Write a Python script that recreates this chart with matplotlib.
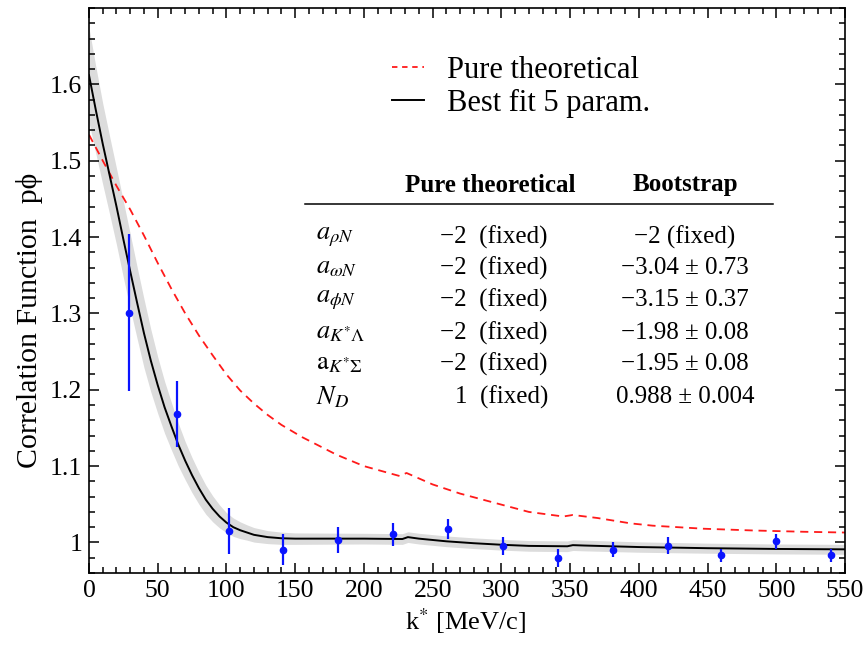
import matplotlib
matplotlib.use("Agg")
import matplotlib.pyplot as plt
from matplotlib.ticker import MultipleLocator, FixedLocator, FixedFormatter
from matplotlib.lines import Line2D

plt.rcParams['font.family'] = ['Liberation Serif', 'DejaVu Serif']
plt.rcParams['mathtext.fontset'] = 'stix'

# ---------------- data ----------------
k_data = [29, 64, 102, 141, 181, 221, 261, 301, 341, 381, 421, 460, 500, 540]
c_data = [1.301, 1.168, 1.015, 0.9905, 1.0035, 1.011, 1.0175, 0.995, 0.980,
          0.9905, 0.9957, 0.983, 1.0013, 0.983]
c_err = [0.103, 0.043, 0.030, 0.020, 0.017, 0.015, 0.013, 0.012, 0.012,
         0.010, 0.011, 0.009, 0.0095, 0.009]

k_fit = [0, 5, 10, 15, 20, 25, 30, 35, 40, 45, 50, 55, 60, 65, 70, 75, 80, 85,
         90, 95, 100, 105, 110, 115, 120, 130, 140, 150, 200, 228, 232, 240,
         260, 280, 300, 320, 348, 352, 360, 400, 450, 500, 550]
c_fit = [1.612, 1.566, 1.522, 1.481, 1.440, 1.397, 1.355, 1.314, 1.274, 1.238,
         1.206, 1.177, 1.152, 1.128, 1.107, 1.088, 1.071, 1.056, 1.044, 1.034,
         1.026, 1.020, 1.016, 1.013, 1.010, 1.007, 1.0055, 1.005, 1.005, 1.0045,
         1.007, 1.005, 1.0015, 0.999, 0.997, 0.9955, 0.995, 0.9965, 0.996,
         0.994, 0.9925, 0.9915, 0.991]
band_half = [0.062, 0.057, 0.053, 0.051, 0.050, 0.050, 0.049, 0.047, 0.045,
             0.041, 0.037, 0.034, 0.031, 0.028, 0.025, 0.023, 0.021, 0.019,
             0.017, 0.015, 0.013, 0.012, 0.011, 0.010, 0.0095, 0.0085, 0.008,
             0.0075, 0.007, 0.007, 0.007, 0.007, 0.007, 0.007, 0.007, 0.007,
             0.007, 0.007, 0.007, 0.0068, 0.0066, 0.0065, 0.0065]

k_theo = [0, 10, 20, 30, 40, 50, 60, 70, 80, 90, 100, 110, 120, 130, 140, 155,
          180, 200, 226, 231, 250, 270, 297, 320, 345, 352, 370, 394, 410, 447,
          483, 520, 550]
c_theo = [1.534, 1.500, 1.467, 1.436, 1.402, 1.366, 1.332, 1.300, 1.271, 1.245,
          1.220, 1.199, 1.182, 1.167, 1.154, 1.138, 1.115, 1.100, 1.087, 1.091,
          1.076, 1.064, 1.051, 1.040, 1.034, 1.036, 1.032, 1.025, 1.022, 1.018,
          1.0157, 1.014, 1.013]

x_ticks = [0, 50, 100, 150, 200, 250, 300, 350, 400, 450, 500, 550]
y_ticks = [1.0, 1.1, 1.2, 1.3, 1.4, 1.5, 1.6]
y_ticklabels = ['1', '1.1', '1.2', '1.3', '1.4', '1.5', '1.6']

legend_labels = ['Pure theoretical', 'Best fit 5 param.']
table_header = ['Pure theoretical', 'Bootstrap']
row_labels = [r'$a_{\rho N}$', r'$a_{\omega N}$', r'$a_{\phi N}$',
              r'$a_{K^{*}\Lambda}$', r'$\mathrm{a}_{K^{*}\Sigma}$', r'$N_D$']
col_theo = ['\u22122  (fixed)', '\u22122  (fixed)', '\u22122  (fixed)',
            '\u22122  (fixed)', '\u22122  (fixed)', '1  (fixed)']
col_boot = ['\u22122 (fixed)', '\u22123.04 \u00b1 0.73', '\u22123.15 \u00b1 0.37',
            '\u22121.98 \u00b1 0.08', '\u22121.95 \u00b1 0.08', '0.988 \u00b1 0.004']

# ---------------- figure ----------------
fig = plt.figure(figsize=(8.68, 6.48), dpi=100)
ax = fig.add_axes([89/868, 1-573/648, (845-89)/868, (573-8)/648])

lo = [c - h for c, h in zip(c_fit, band_half)]
hi = [c + h for c, h in zip(c_fit, band_half)]
ax.fill_between(k_fit, lo, hi, color='#dcdcdc', lw=0, zorder=1)
ax.plot(k_theo, c_theo, color='#ff1a1a', lw=1.3, ls=(0, (4.5, 3.2)), zorder=2)
ax.plot(k_fit, c_fit, color='black', lw=1.4, zorder=3)
ax.errorbar(k_data, c_data, yerr=c_err, fmt='o', color='#0a14ff', ms=4.5,
            elinewidth=1.6, capsize=0, zorder=4)

ax.set_xlim(0, 550)
ax.set_ylim(0.96, 1.70)

ax.xaxis.set_major_locator(FixedLocator(x_ticks))
ax.xaxis.set_minor_locator(MultipleLocator(10))
ax.yaxis.set_major_locator(FixedLocator(y_ticks))
ax.yaxis.set_major_formatter(FixedFormatter(y_ticklabels))
ax.yaxis.set_minor_locator(MultipleLocator(0.02))
ax.tick_params(which='both', direction='in', top=True, right=True,
               labelsize=18.5, width=1.1, pad=5)
ax.tick_params(which='major', length=7)
ax.tick_params(which='minor', length=4)
for s in ax.spines.values():
    s.set_linewidth(1.2)

ax.set_xlabel(r'k$^{*}$ [MeV/c]', fontsize=19)
ax.xaxis.set_label_coords((466-89)/756, (573-606)/565)
ax.set_ylabel('Correlation Function  p\u03d5', fontsize=21.5)
ax.yaxis.set_label_coords((43-89)/756, (573-320)/565)

handles = [Line2D([], [], color='#ff1a1a', lw=1.3, ls=(0, (3, 2.6))),
           Line2D([], [], color='black', lw=1.4)]
ax.legend(handles, legend_labels, loc='upper left',
          bbox_to_anchor=((392-89)/756, (573-56)/565), frameon=False,
          fontsize=22, handlelength=1.05, handletextpad=0.75,
          labelspacing=0.12, borderpad=0, borderaxespad=0)

def fx(px):
    return (px - 89) / 756

def fy(py):
    return (573 - py) / 565

ax.text(fx(490), fy(185), table_header[0], transform=ax.transAxes,
        ha='center', va='center', fontsize=18, fontweight='bold')
ax.text(fx(685), fy(185), table_header[1], transform=ax.transAxes,
        ha='center', va='center', fontsize=18, fontweight='bold')
ax.plot([fx(305), fx(773)], [fy(204), fy(204)], transform=ax.transAxes,
        color='black', lw=1.1, clip_on=False)

row_y = [237, 268, 300, 333, 364, 397]
for ry, lab, c1, c2 in zip(row_y, row_labels, col_theo, col_boot):
    ax.text(fx(316), fy(ry), lab, transform=ax.transAxes, ha='left',
            va='center', fontsize=19)
    ax.text(fx(548), fy(ry), c1, transform=ax.transAxes, ha='right',
            va='center', fontsize=18)
    ax.text(fx(685), fy(ry), c2, transform=ax.transAxes, ha='center',
            va='center', fontsize=18)

fig.savefig('out.png', dpi=100)
